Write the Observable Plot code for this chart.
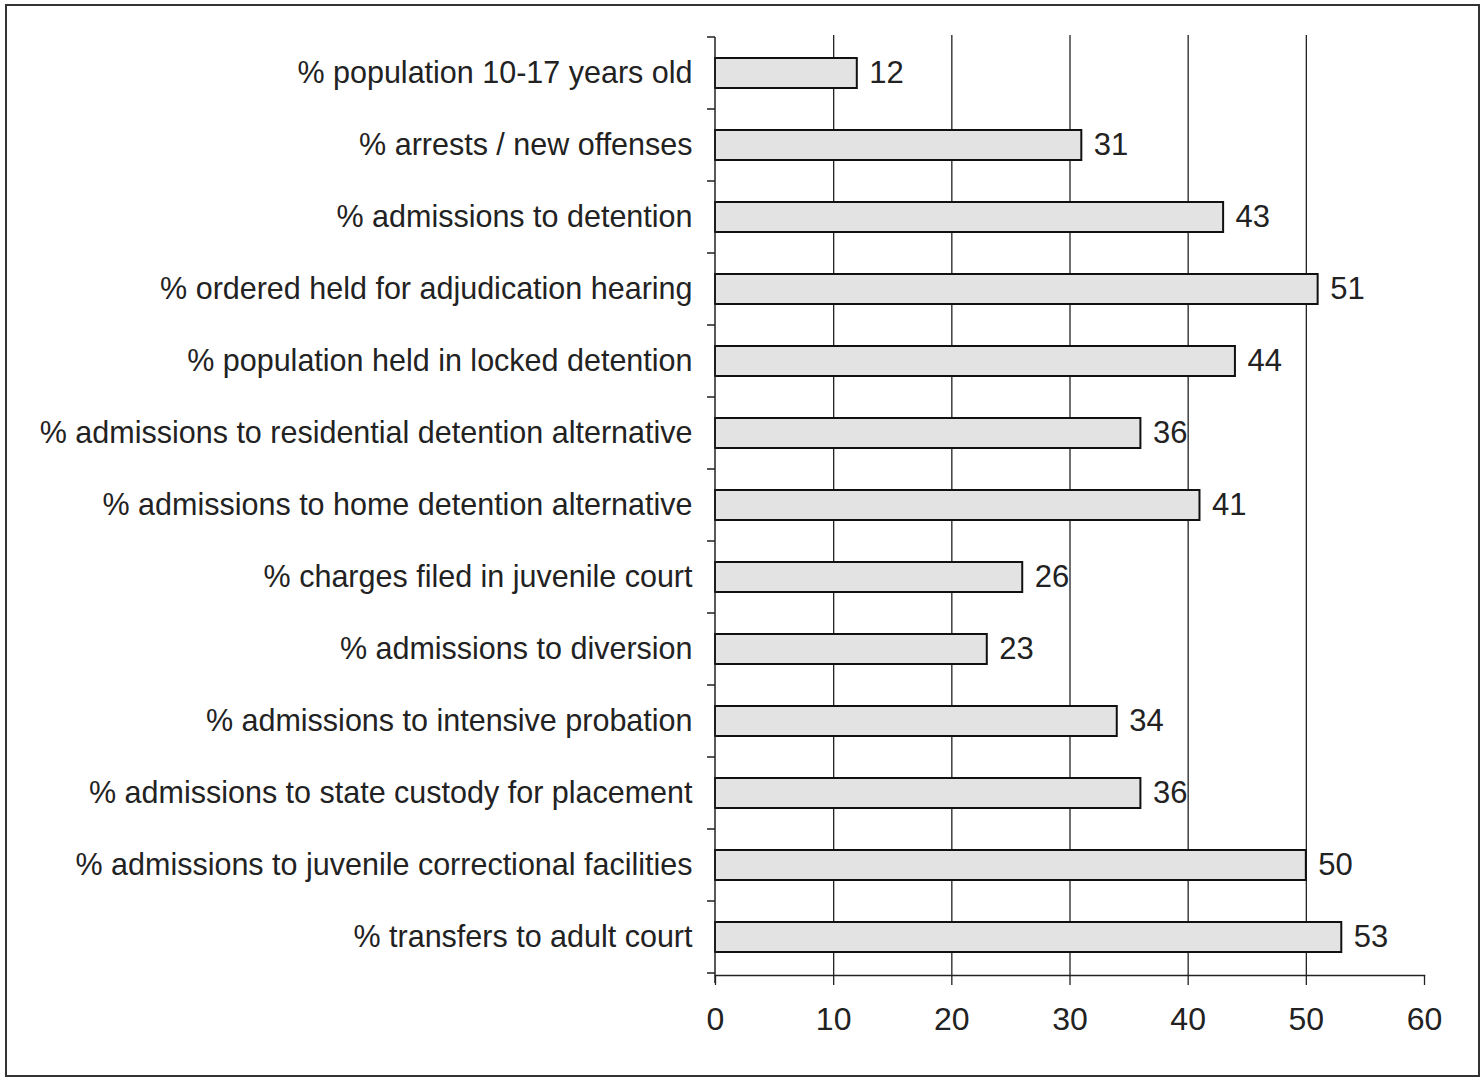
<!DOCTYPE html>
<html>
<head>
<meta charset="utf-8">
<script src="https://cdn.jsdelivr.net/npm/d3@7"></script>
<script src="https://cdn.jsdelivr.net/npm/@observablehq/plot@0.6"></script>
<style>
  html, body { margin: 0; padding: 0; background: #fff; }
  #wrap { position: relative; width: 1484px; height: 1080px; overflow: hidden; }
  #border { position: absolute; left: 5px; top: 4px; width: 1471px; height: 1069px; border: 2px solid #333; box-sizing: content-box; pointer-events: none; }
  #chart { position: absolute; left: 0; top: 0; }
</style>
</head>
<body>
<div id="wrap"><div id="chart"></div><div id="border"></div></div>
<script>
const categories = [
  "% population 10-17 years old",
  "% arrests / new offenses",
  "% admissions to detention",
  "% ordered held for adjudication hearing",
  "% population held in locked detention",
  "% admissions to residential detention alternative",
  "% admissions to home detention alternative",
  "% charges filed in juvenile court",
  "% admissions to diversion",
  "% admissions to intensive probation",
  "% admissions to state custody for placement",
  "% admissions to juvenile correctional facilities",
  "% transfers to adult court"
];
const values = [12, 31, 43, 51, 44, 36, 41, 26, 23, 34, 36, 50, 53];
const xTicks = [0, 10, 20, 30, 40, 50, 60];
const gridTicks = [10, 20, 30, 40, 50];

const data = categories.map((c, i) => ({category: c, value: values[i]}));
const font = "'Liberation Sans', Arial, Helvetica, sans-serif";

// Tick marks on the category axis placed at band boundaries
function bandBoundaryTicks(index, scales, values, dims) {
  const y = scales.y;
  const bw = y.bandwidth();
  const step = y(categories[1]) - y(categories[0]);
  const pad = (step - bw) / 2;
  const g = d3.create("svg:g");
  const left = dims.marginLeft;
  const ys = categories.map(c => y(c) - pad);
  ys.push(y(categories[categories.length - 1]) - pad + step);
  for (const yy of ys) {
    g.append("line").attr("x1", left - 8).attr("x2", left).attr("y1", yy).attr("y2", yy)
      .attr("stroke", "#222").attr("stroke-width", 1.5);
  }
  // left axis line, extending slightly below the x axis
  g.append("line").attr("x1", left).attr("x2", left).attr("y1", ys[0]).attr("y2", ys[ys.length - 1] + 10)
    .attr("stroke", "#222").attr("stroke-width", 1.5);
  return g.node();
}

const chart = Plot.plot({
  width: 1484,
  height: 1080,
  marginLeft: 715,
  marginRight: 60,
  marginTop: 35,
  marginBottom: 105,
  style: {fontFamily: font, color: "#222", background: "transparent"},
  x: {domain: [0, 60], ticks: xTicks},
  y: {domain: categories, paddingInner: 0.59, paddingOuter: 0.295, align: 0.5},
  marks: [
    Plot.gridX(gridTicks, {stroke: "#222", strokeOpacity: 1, strokeWidth: 1.3}),
    Plot.barX(data, {y: "category", x: "value", fill: "#e3e3e3", stroke: "#111", strokeWidth: 2}),
    Plot.text(data, {y: "category", x: "value", text: d => String(d.value), dx: 12, textAnchor: "start", fontSize: 31, fill: "#222"}),
    Plot.axisY({tickSize: 0, tickPadding: 23, fontSize: 30.5, label: null}),
    Plot.axisX({ticks: xTicks, tickSize: 10, tickPadding: 22, fontSize: 32, label: null, strokeWidth: 1.3}),
    Plot.frame({anchor: "bottom", stroke: "#222", strokeWidth: 1.5}),
    bandBoundaryTicks
  ]
});
document.getElementById("chart").appendChild(chart);
</script>
</body>
</html>
